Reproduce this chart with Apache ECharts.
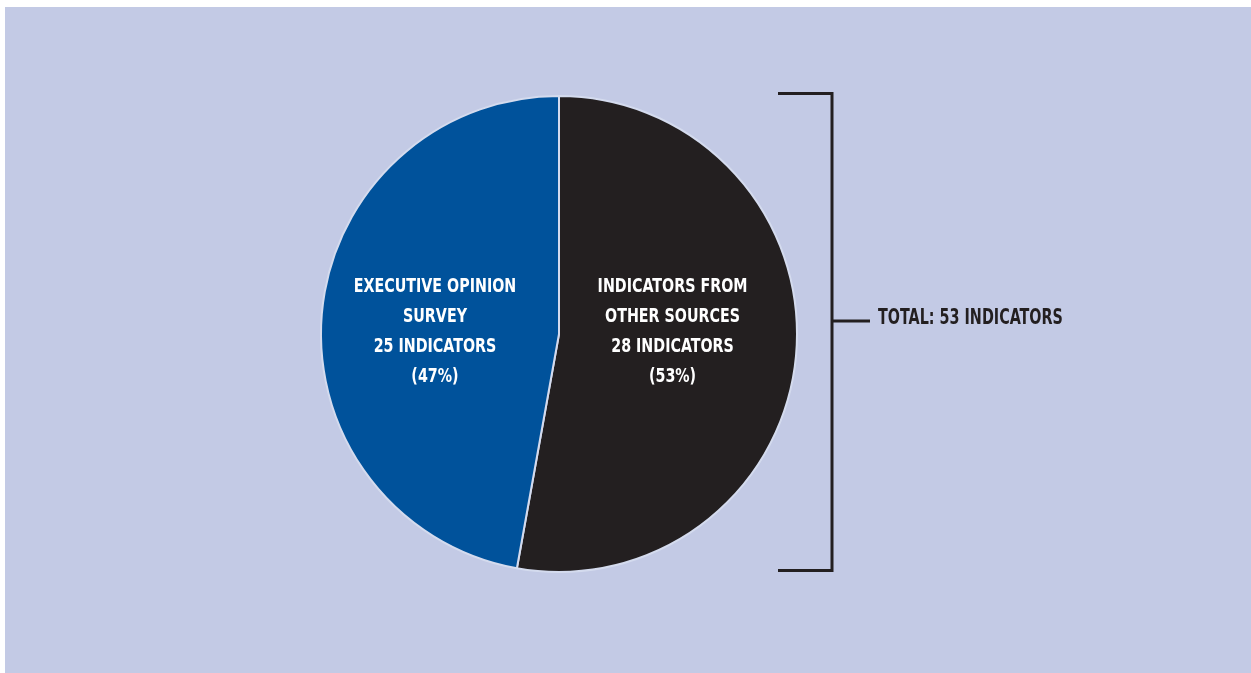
<!DOCTYPE html>
<html>
<head>
<meta charset="utf-8">
<script src="https://cdn.jsdelivr.net/npm/echarts@6/dist/echarts.min.js"></script>
<style>
html,body{margin:0;padding:0;background:#ffffff;}
#main{width:1251px;height:673px;}
</style>
</head>
<body>
<div id="main"></div>
<script>
// ---- data ----
const categories = ['INDICATORS FROM\nOTHER SOURCES', 'EXECUTIVE OPINION\nSURVEY'];
const values = [28, 25];
const colors = ['#231f20', '#00529b'];
const totalLabel = 'TOTAL: 53 INDICATORS';

const total = values.reduce((a, b) => a + b, 0);
const FONT = '"DejaVu Sans Condensed", "Liberation Sans", sans-serif';

const cx = 559, cy = 334, R = 238;
const bx = 832, bLeft = 778, bTop = 93.5, bBot = 570.5, bMid = 321, bTick = 870;

const chart = echarts.init(document.getElementById('main'), null, {renderer: 'canvas'});
const offsets = [[-5, -12.5], [-5.5, 9]];

const baseGraphic = [
  {type: 'rect', z: -10, shape: {x: 5, y: 7, width: 1251, height: 673}, style: {fill: '#c3cae5'}},
  {type: 'polyline', z: 10, shape: {points: [[bLeft, bTop], [bx, bTop], [bx, bBot], [bLeft, bBot]]},
    style: {stroke: '#231f20', lineWidth: 3, fill: null}},
  {type: 'line', z: 10, shape: {x1: bx, y1: bMid, x2: bTick, y2: bMid},
    style: {stroke: '#231f20', lineWidth: 3}},
  {type: 'text', z: 10, x: 878, y: bMid - 2, scaleX: 0.76,
    style: {text: totalLabel, fill: '#231f20', font: 'bold 21px ' + FONT, textVerticalAlign: 'middle', textAlign: 'left'}}
];

chart.setOption({
  backgroundColor: '#ffffff',
  animation: false,
  graphic: baseGraphic,
  series: [{
    type: 'pie',
    center: [cx, cy],
    radius: R,
    startAngle: 90,
    clockwise: true,
    silent: true,
    labelLine: {show: false},
    label: {show: false},
    itemStyle: {borderColor: '#d4dbee', borderWidth: 2},
    data: categories.map((c, i) => ({
      name: c, value: values[i],
      itemStyle: {color: colors[i]}
    }))
  }]
});

// labels placed at each slice's mid-angle, taken from the pie's own layout
function sliceMid(i) {
  try {
    const lay = chart.getModel().getSeriesByIndex(0).getData().getItemLayout(i);
    const mid = (lay.startAngle + lay.endAngle) / 2;
    const rr = ((lay.r0 || 0) + lay.r) / 2;
    return [lay.cx + Math.cos(mid) * rr, lay.cy + Math.sin(mid) * rr];
  } catch (e) {
    let cum = 0;
    for (let k = 0; k < i; k++) cum += values[k];
    const a = (90 - (cum + values[i] / 2) / total * 360) * Math.PI / 180;
    return [cx + Math.cos(a) * R / 2, cy - Math.sin(a) * R / 2];
  }
}
const labelGraphic = categories.map((c, i) => {
  const p = sliceMid(i);
  return {
    type: 'text', z: 20,
    x: p[0] + offsets[i][0], y: p[1] + offsets[i][1], scaleX: 0.835,
    style: {
      text: c + '\n' + values[i] + ' INDICATORS\n(' + Math.round(values[i] / total * 100) + '%)',
      fill: '#ffffff', font: 'bold 19px ' + FONT, lineHeight: 30,
      textAlign: 'center', textVerticalAlign: 'middle'
    }
  };
});
chart.setOption({graphic: baseGraphic.concat(labelGraphic)});
</script>
</body>
</html>
